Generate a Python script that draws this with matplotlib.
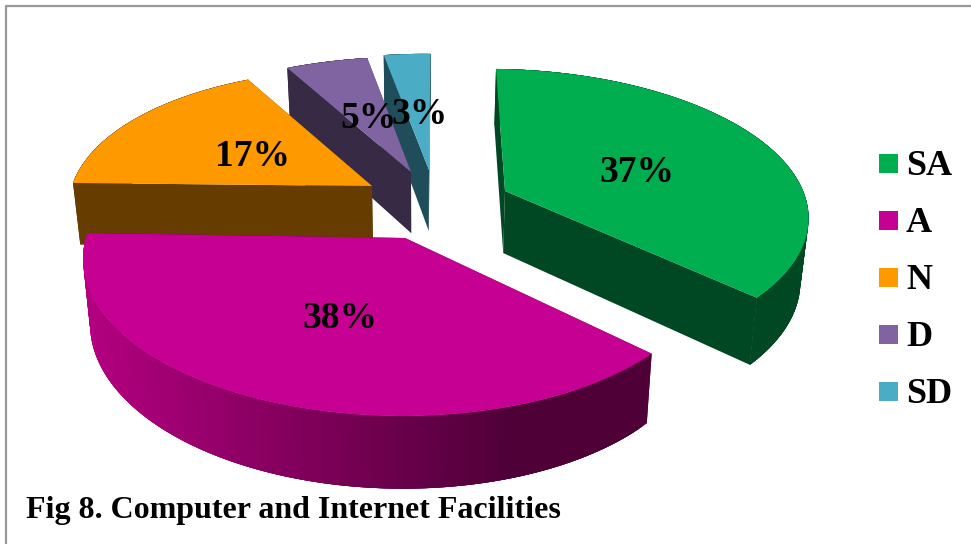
import numpy as np
import matplotlib
matplotlib.use("Agg")
import matplotlib.pyplot as plt
from matplotlib.colors import to_rgb

categories = ["SA", "A", "N", "D", "SD"]
values = [37, 38, 17, 5, 3]
title = "Fig 8. Computer and Internet Facilities"

top_colors = ["#00AE4F", "#C60093", "#FF9900", "#8064A2", "#4BACC6"]
wall_colors = ["#004723", "#4E0037", "#663C00", "#362A45", "#1F4E5A"]

# Per-slice placement of the exploded wedge (pixels): tip of the wedge and shape of its rim
apex_x = [505, 405, 372, 411, 429]
apex_y = [191, 238, 186, 172, 170]
rad_x = [307, 308, 290, 300, 288]
rad_y = [142, 149, 135, 134, 135]
shear_x = [-9, 0, 0, 5, 1.5]
shear_y = [0, 5, 3, 0, 0]
label_pos = [(637, 172), (340, 319), (253, 157), (368, 118), (420, 115)]
legend_y = [163.5, 220.5, 277.5, 334.5, 391.5]

persp_y, persp_x = 0.163, 0.03
van_x, bottom_shrink = 419, 0.979
plt.rcParams["font.family"] = ["Liberation Serif", "DejaVu Serif"]


def rim(i, t):
    X, Y = np.sin(t), np.cos(t)
    d = 1 + persp_y * Y + persp_x * X
    x = apex_x[i] + rad_x[i] * X / d + shear_x[i] * Y
    y = apex_y[i] - rad_y[i] * Y / d + shear_y[i] * X
    return x, y


def lower(x, y):
    x, y = np.asarray(x, float), np.asarray(y, float)
    return van_x + (x - van_x) * bottom_shrink, y + 62 + (y - 190) * 0.047


def rim_color(i, x):
    if categories[i] != "A":
        return to_rgb(wall_colors[i])
    f = np.clip((x - 90) / 430, 0, 1)
    a, b = np.array(to_rgb("#B2007F")), np.array(to_rgb(wall_colors[i]))
    return tuple(a + (b - a) * f)


fig = plt.figure(figsize=(9.71, 5.44), dpi=100, facecolor="white")
ax = fig.add_axes([0, 0, 1, 1])
ax.set_xlim(0, 971)
ax.set_ylim(544, 0)
ax.axis("off")

# chart frame
ax.plot([5.5, 5.5, 971], [544, 5.5, 5.5], color="#999999", lw=1.6, solid_capstyle="butt")

edges = np.cumsum([0] + values) / sum(values) * 2 * np.pi
for i in [0, 4, 3, 2, 1]:
    t = np.linspace(edges[i], edges[i + 1], 120)
    rx, ry = rim(i, t)
    ax_, ay_ = apex_x[i], apex_y[i]
    bx, by = lower(rx, ry)
    bax, bay = lower(ax_, ay_)
    # straight cut walls
    for ex, ey, ebx, eby in [(rx[0], ry[0], bx[0], by[0]), (rx[-1], ry[-1], bx[-1], by[-1])]:
        ax.fill([ax_, ex, ebx, bax], [ay_, ey, eby, bay], color=wall_colors[i], lw=0)
    # curved outer wall, shaded along its length; bands overlap so no seams show
    for j in range(len(t) - 1):
        k = min(j + 4, len(t) - 1)
        ax.fill(np.r_[rx[j:k + 1], bx[j:k + 1][::-1]], np.r_[ry[j:k + 1], by[j:k + 1][::-1]],
                color=rim_color(i, rx[j]), lw=0)
    # upper face
    ax.fill(np.r_[ax_, rx], np.r_[ay_, ry], color=top_colors[i], lw=0)

for v, (px, py) in zip(values, label_pos):
    ax.text(px, py, f"{v}%", ha="center", va="center", fontsize=27, fontweight="bold", color="black")

for name, col, ly in zip(categories, top_colors, legend_y):
    ax.add_patch(plt.Rectangle((879, ly - 9.5), 19, 19, facecolor=col, edgecolor="none"))
    ax.text(906, ly + 11.5, name, ha="left", va="baseline", fontsize=26, fontweight="bold", color="black")

ax.text(26, 518, title, ha="left", va="baseline", fontsize=23, fontweight="bold", color="black")

fig.savefig("out.png", dpi=100, facecolor="white")
